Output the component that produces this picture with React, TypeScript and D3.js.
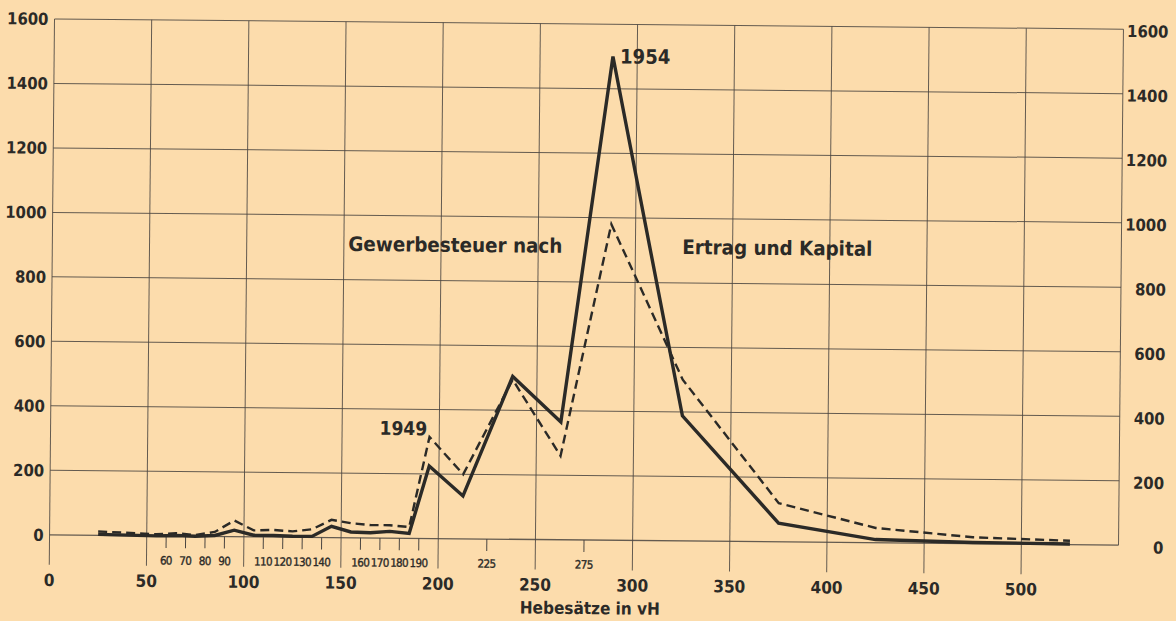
import React from 'react';
import * as d3 from 'd3';

// Hebesätze (class midpoints, vH) and number of municipalities per class
const hebesaetze = [25, 55, 65, 75, 85, 95, 105, 115, 125, 135, 145, 155, 165, 175, 185, 195, 212.5, 237.5, 262.5, 287.5, 325, 375, 425, 475, 525];
const werte1954 = [3, 0, 2, 0, 3, 20, 5, 5, 3, 3, 35, 18, 16, 21, 15, 225, 133, 505, 365, 1500, 388, 58, 10, 4, 2];
const werte1949 = [12, 5, 9, 4, 14, 50, 20, 22, 18, 25, 55, 45, 40, 40, 35, 315, 200, 495, 260, 980, 500, 120, 46, 20, 12];

const yTicks = [0, 200, 400, 600, 800, 1000, 1200, 1400, 1600];
const xMajor = [0, 50, 100, 150, 200, 250, 300, 350, 400, 450, 500];
const xMinor = [60, 70, 80, 90, 110, 120, 130, 140, 160, 170, 180, 190, 225, 275];

const W = 1176;
const H = 621;
const margin = { top: 24, right: 55, bottom: 81, left: 52 };

const bg = '#fcdcac';
const ink = '#2b2a27';
const gridInk = '#4a4540';
const font = '"DejaVu Sans Condensed", "DejaVu Sans", sans-serif';

export default function App() {
  const x = d3.scaleLinear().domain([0, 550]).range([margin.left, W - margin.right]);
  const y = d3.scaleLinear().domain([0, 1600]).range([H - margin.bottom, margin.top]);

  const line = d3.line<number>()
    .x((d, i) => x(hebesaetze[i]))
    .y(d => y(d));

  const y0 = y(0);

  return (
    <svg width={W} height={H} style={{ position: 'absolute', left: 0, top: 0, background: bg }}>
      <rect width={W} height={H} fill={bg} />
      {/* the scan is slightly tilted */}
      <g transform="rotate(0.55 586 282)" fontFamily={font} fill={ink}>
        {/* horizontal grid */}
        {yTicks.map(t => (
          <line key={'h' + t} x1={x(0)} x2={x(550)} y1={y(t)} y2={y(t)}
            stroke={gridInk} strokeWidth={t === 0 ? 1.3 : 1} opacity={0.85} />
        ))}
        {/* vertical grid, majors go below the axis */}
        {xMajor.map(t => (
          <line key={'v' + t} x1={x(t)} x2={x(t)} y1={y(1600)} y2={y0 + 30}
            stroke={gridInk} strokeWidth={1} opacity={0.85} />
        ))}
        <line x1={x(550)} x2={x(550)} y1={y(1600)} y2={y0} stroke={gridInk} strokeWidth={1} opacity={0.85} />
        {/* minor ticks */}
        {xMinor.map(t => (
          <line key={'m' + t} x1={x(t)} x2={x(t)} y1={y0} y2={y0 + 12}
            stroke={gridInk} strokeWidth={1} />
        ))}

        {/* y labels left and right */}
        {yTicks.map(t => (
          <text key={'yl' + t} x={46} y={y(t)} dy="0.36em" textAnchor="end"
            fontSize={16.5} fontWeight="bold">{t}</text>
        ))}
        {yTicks.map(t => (
          <text key={'yr' + t} x={1166} y={y(t) + 2} dy="0.36em" textAnchor="end"
            fontSize={16.5} fontWeight="bold">{t}</text>
        ))}

        {/* x labels */}
        {xMajor.map(t => (
          <text key={'xl' + t} x={x(t)} y={585} dy="0.36em" textAnchor="middle"
            fontSize={17} fontWeight="bold">{t}</text>
        ))}
        {xMinor.map(t => (
          <text key={'xm' + t} x={x(t)} y={564.5} dy="0.36em" textAnchor="middle"
            fontSize={11.5} letterSpacing={-0.6} stroke={ink} strokeWidth={0.35}>{t}</text>
        ))}
        <text x={593} y={608} dy="0.36em" textAnchor="middle" fontSize={17} fontWeight="bold">
          Hebesätze in vH
        </text>

        {/* series */}
        <path d={line(werte1949) || ''} fill="none" stroke={ink} strokeWidth={2.4}
          strokeDasharray="9 5" strokeLinejoin="miter" />
        <path d={line(werte1954) || ''} fill="none" stroke={ink} strokeWidth={3.4}
          strokeLinejoin="miter" />

        {/* annotations */}
        <text x={618} y={56} dy="0.36em" fontSize={20} fontWeight="bold">1954</text>
        <text x={381} y={430} dy="0.36em" fontSize={19} fontWeight="bold">1949</text>
        <text x={348} y={246} dy="0.36em" fontSize={20} fontWeight="bold"
          textLength={214} lengthAdjust="spacingAndGlyphs">Gewerbesteuer nach</text>
        <text x={682} y={246} dy="0.36em" fontSize={20} fontWeight="bold"
          textLength={190} lengthAdjust="spacingAndGlyphs">Ertrag und Kapital</text>
      </g>
    </svg>
  );
}
